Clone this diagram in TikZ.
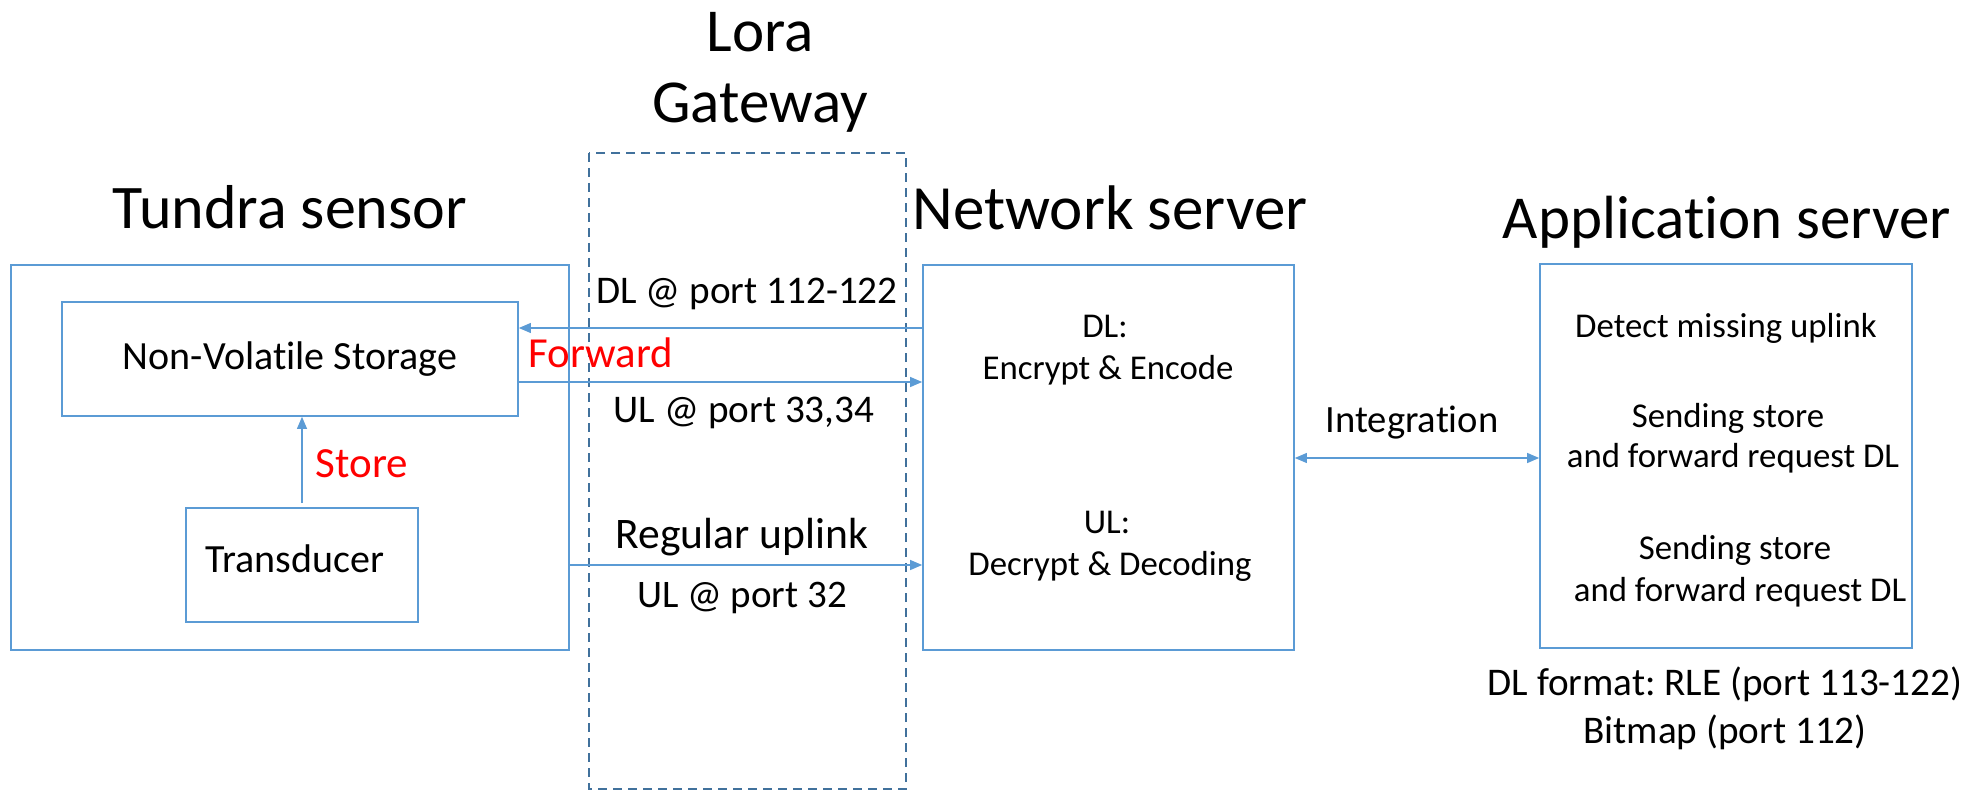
\documentclass[tikz,border=0pt]{standalone}
\usepackage{fontspec}
\setmainfont{Carlito}[Ligatures=NoCommon]
\frenchspacing
\usetikzlibrary{arrows.meta,fit}
\definecolor{boxblue}{HTML}{5B9BD5}
\definecolor{gwblue}{HTML}{41719C}
\definecolor{labred}{HTML}{FF0000}
\newcommand{\fs}[1]{\fontsize{#1pt}{#1pt}\selectfont}
\begin{document}
\begin{tikzpicture}[x=0.5pt,y=-0.5pt,
  blockbox/.style={draw=boxblue,line width=0.85pt,rectangle,inner sep=0pt},
  gwbox/.style={draw=gwblue,line width=1pt,dash pattern=on 4.5pt off 3pt},
  txt/.style={inner sep=0pt,anchor=base,align=center},
  title/.style={txt,font=\fs{30.5}},
  lab/.style={txt,font=\fs{19.6}},
  biglab/.style={txt,font=\fs{21.5}},
  boxtxt/.style={txt,font=\fs{17.4}},
  midtxt/.style={txt,font=\fs{20}},
  redlab/.style={txt,text=labred,font=\fs{21.4}},
  link/.style={draw=boxblue,line width=0.55pt,-{Triangle[length=6pt,width=5pt]}},
  dlink/.style={draw=boxblue,line width=0.55pt,{Triangle[length=6pt,width=5pt]}-{Triangle[length=6pt,width=5pt]}}]
\useasboundingbox (0,0) rectangle (1986,791);

% gateway region
\draw[gwbox] (589,153) rectangle (906,789);
\node[title] (gwtitle1) at (760,52) {Lora};
\node[title] (gwtitle2) at (760,123) {Gateway};

% tundra sensor
\node[blockbox,fit={(11,265) (569,650)}] (tundra) {};
\node[title,font=\fs{31}] (tundratitle) at (290,229) {Tundra sensor};
\node[blockbox,fit={(62,302) (518,416)}] (nvs) {};
\node[midtxt] (nvstxt) at (290,369) {Non-Volatile Storage};
\node[blockbox,fit={(186,508) (418,622)}] (trans) {};
\node[midtxt] (transtxt) at (295,572) {Transducer};
\coordinate (storefoot) at (302,503);
\draw[link] (storefoot) -- (storefoot |- nvs.south);
\node[redlab,font=\fs{21.5}] (storelab) at (362,477) {Store};

% network server
\node[blockbox,fit={(923,265) (1294,650)}] (ns) {};
\node[title,font=\fs{31.5}] (nstitle) at (1110,230) {Network server};
\node[boxtxt] (nsdl) at (1105,337) {DL:};
\node[boxtxt] (nsdl2) at (1108,379) {Encrypt \& Encode};
\node[boxtxt] (nsul) at (1107,533) {UL:};
\node[boxtxt] (nsul2) at (1110,575) {Decrypt \& Decoding};

% application server
\node[blockbox,fit={(1540,264) (1912,648)}] (app) {};
\node[title] (apptitle) at (1727,239) {Application server};
\node[boxtxt] (app1) at (1726,337) {Detect missing uplink};
\node[boxtxt] (app2) at (1728,427) {Sending store};
\node[boxtxt] (app3) at (1733,467) {and forward request DL};
\node[boxtxt] (app4) at (1735,559) {Sending store};
\node[boxtxt] (app5) at (1740,601) {and forward request DL};
\node[lab] (fmt1) at (1725,695) {DL format: RLE (port 113-122)};
\node[lab] (fmt2) at (1725,743) {Bitmap (port 112)};

% links through the gateway
\coordinate (dly) at (0,328);
\coordinate (uly) at (0,382);
\coordinate (rey) at (0,565);
\coordinate (iy) at (0,458);
\draw[link] (ns.west |- dly) -- (nvs.east |- dly);
\draw[link] (nvs.east |- uly) -- (ns.west |- uly);
\draw[link] (tundra.east |- rey) -- (ns.west |- rey);
\draw[dlink] (ns.east |- iy) -- (app.west |- iy);

\node[lab] (dllab) at (747,303) {DL @ port 112-122};
\node[redlab] (fwdlab) at (601,367) {Forward};
\node[lab] (ullab) at (744,422) {UL @ port 33,34};
\node[biglab,font=\fs{21.8}] (reglab) at (742,548) {Regular uplink};
\node[lab,font=\fs{19.5}] (ul32lab) at (742,607) {UL @ port 32};
\node[lab,font=\fs{19.3}] (intlab) at (1412,432) {Integration};
\end{tikzpicture}
\end{document}
